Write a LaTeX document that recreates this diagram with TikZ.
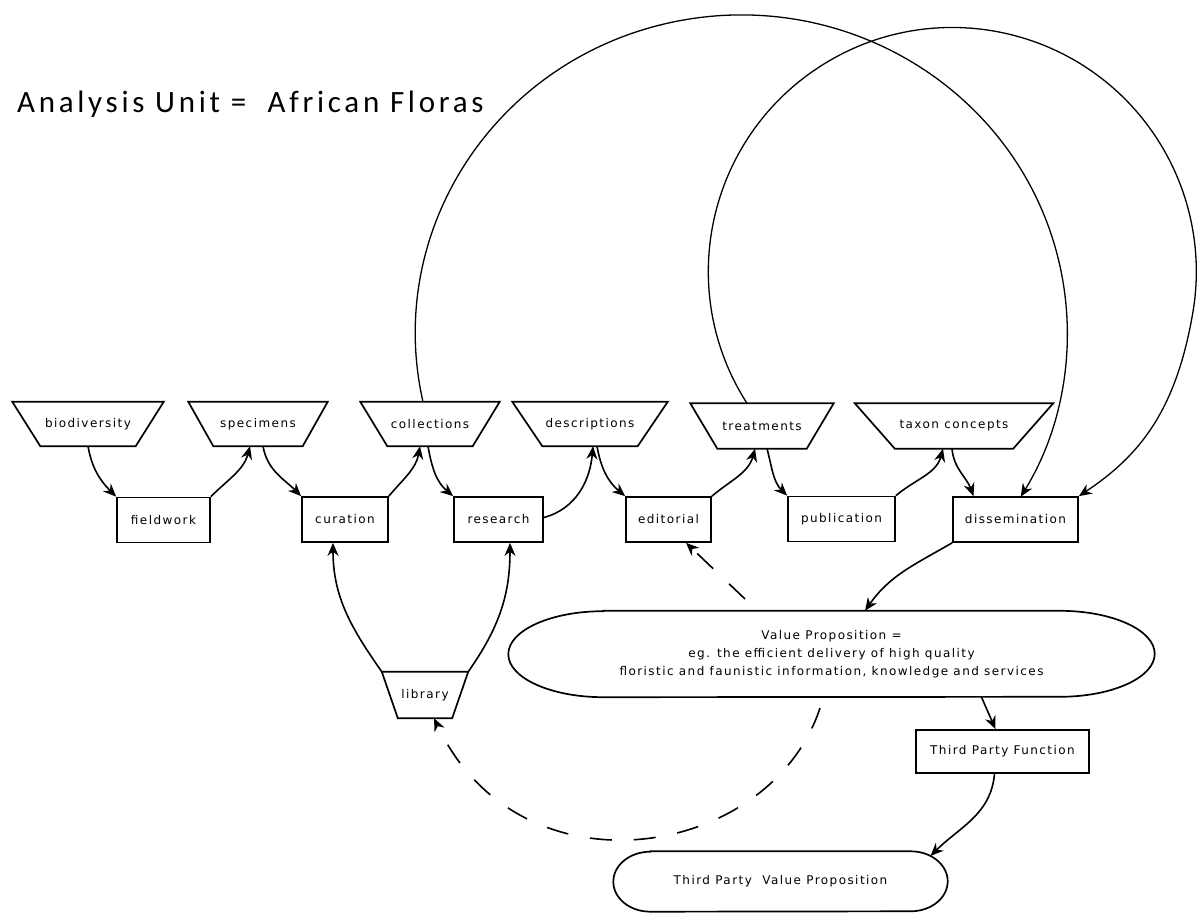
\documentclass[tikz,border=0pt]{standalone}
\usepackage{fontspec}
\setmainfont{DejaVu Sans}[LetterSpace=12]
\newfontfamily\titlefont{Carlito}[LetterSpace=12]
\usetikzlibrary{arrows.meta}
\newcommand\trapdraw[2]{\draw[line width=1.7pt] ([xshift=-#2pt]#1.north west) -- ([xshift=#2pt]#1.north east) -- (#1.south east) -- (#1.south west) -- cycle;}
\begin{document}
\begin{tikzpicture}[x=1pt,y=1pt,
  lbl/.style={font=\fontsize{12}{14}\selectfont},
  box/.style={lbl, draw, line width=1.7pt, inner sep=0pt, minimum height=45pt},
  tz/.style={lbl, inner sep=0pt, minimum height=44pt},
  conn/.style={line width=1.6pt, -{Stealth[length=13pt,width=11pt]}},
  loopc/.style={line width=1.3pt, -{Stealth[length=13pt,width=11pt]}},
  dashc/.style={conn, dash pattern=on 22pt off 22pt}]
\useasboundingbox (0,0) rectangle (1201,913);
% title
\node[anchor=base west, inner sep=0pt, font=\titlefont\fontsize{31}{37}\selectfont] (title) at (17,800) {Analysis Unit =~ African Floras};
% trapezoids
\node[tz, minimum width=95pt] (bio) at (88,489) {biodiversity};
\trapdraw{bio}{28}
\node[tz, minimum width=89pt] (spec) at (258,489) {specimens};
\trapdraw{spec}{25}
\node[tz, minimum width=85pt] (coll) at (430,489) {collections};
\trapdraw{coll}{27}
\node[tz, minimum width=95pt] (desc) at (590,489) {descriptions};
\trapdraw{desc}{30}
\node[tz, minimum width=89pt, minimum height=45pt] (treat) at (762,487) {treatments};
\trapdraw{treat}{27}
\node[tz, minimum width=118pt, minimum height=45pt] (tax) at (954,487) {taxon concepts};
\trapdraw{tax}{40}
\node[tz, minimum width=54pt, minimum height=46pt] (lib) at (425,218) {library};
\trapdraw{lib}{16}
% boxes
\node[box, minimum width=93pt] (field) at (163.5,393) {fieldwork};
\node[box, minimum width=86pt] (cur) at (345,393.5) {curation};
\node[box, minimum width=89pt] (res) at (498.5,393.5) {research};
\node[box, minimum width=85pt] (edit) at (668.5,393.5) {editorial};
\node[box, minimum width=107pt] (pub) at (841.5,394) {publication};
\node[box, minimum width=125pt] (diss) at (1015.5,393.5) {dissemination};
\node[box, minimum width=173pt, minimum height=43pt] (tpf) at (1002.5,161.5) {Third Party Function};
% value proposition
\node[lbl, font=\fontsize{12}{18}\selectfont, inner sep=0pt, minimum width=646pt, minimum height=86pt, align=center] (vp) at (831.5,259) {Value Proposition =\\eg. the efficient delivery of high quality\\floristic and faunistic information, knowledge and services};
\draw[line width=1.7pt] ([xshift=95pt]vp.north west) -- ([xshift=-95pt]vp.north east) arc[start angle=90, end angle=-90, x radius=95, y radius=43] -- ([xshift=95pt]vp.south west) arc[start angle=270, end angle=90, x radius=95, y radius=43] -- cycle;
\node[lbl, inner sep=0pt, minimum width=334pt, minimum height=60pt] (tpvp) at (780.5,31.5) {Third Party~ Value Proposition};
\draw[line width=1.7pt] ([xshift=37pt]tpvp.north west) -- ([xshift=-37pt]tpvp.north east) arc[start angle=90, end angle=-90, x radius=37, y radius=30] -- ([xshift=37pt]tpvp.south west) arc[start angle=270, end angle=90, x radius=37, y radius=30] -- cycle;
% top row connectors
\draw[conn] (bio.south) to[out=-80,in=135] (field.north west);
\draw[conn] (field.north east) to[out=45,in=-105] ([xshift=-8pt]spec.south);
\draw[conn] ([xshift=5pt]spec.south) to[out=-80,in=135] (cur.north west);
\draw[conn] (cur.north east) to[out=50,in=-100] ([xshift=-10pt]coll.south);
\draw[conn] ([xshift=-2pt]coll.south) to[out=-80,in=140] (res.north west);
\draw[conn] ([yshift=2pt]res.east) to[out=15,in=-95] ([xshift=3pt]desc.south);
\draw[conn] ([xshift=7pt]desc.south) to[out=-80,in=140] (edit.north west);
\draw[conn] (edit.north east) to[out=40,in=-105] ([xshift=-7pt]treat.south);
\draw[conn] ([xshift=5pt]treat.south) to[out=-75,in=135] (pub.north west);
\draw[conn] (pub.north east) to[out=40,in=-105] ([xshift=-11pt]tax.south);
\draw[conn] ([xshift=-2pt]tax.south) to[out=-85,in=110] ([xshift=-42pt]diss.north);
% big loops
\draw[loopc] ([xshift=-7pt]coll.north) arc[start angle=192.5, end angle=-31, x radius=326, y radius=318];
\draw[loopc] ([xshift=-15pt]treat.north) arc[start angle=212.7, end angle=-10, radius=244] .. controls +(-17,-98) and ([shift={(60pt,40pt)}]diss.north east) .. (diss.north east);
% lower connectors
\draw[conn] (diss.south west) to[out=-150,in=55] ([xshift=33.5pt]vp.north);
\draw[conn] ([xshift=150pt]vp.south) -- ([xshift=-7pt]tpf.north);
\draw[conn] ([xshift=-8pt]tpf.south) to[out=-95,in=45] ([shift={(150pt,25.5pt)}]tpvp.center);
\draw[conn] ([xshift=-16pt]lib.north west) to[out=125,in=-90] ([xshift=-12pt]cur.south);
\draw[conn] ([xshift=16pt]lib.north east) to[out=55,in=-90] ([xshift=11.5pt]res.south);
% dashed
\coordinate (d1) at (745,314);
\draw[dashc] (d1) -- ([xshift=17.5pt]edit.south);
\coordinate (d2) at (820,205);
\draw[dashc] (d2) .. controls (770,53) and (520,13) .. ([xshift=9pt]lib.south);
\end{tikzpicture}
\end{document}
